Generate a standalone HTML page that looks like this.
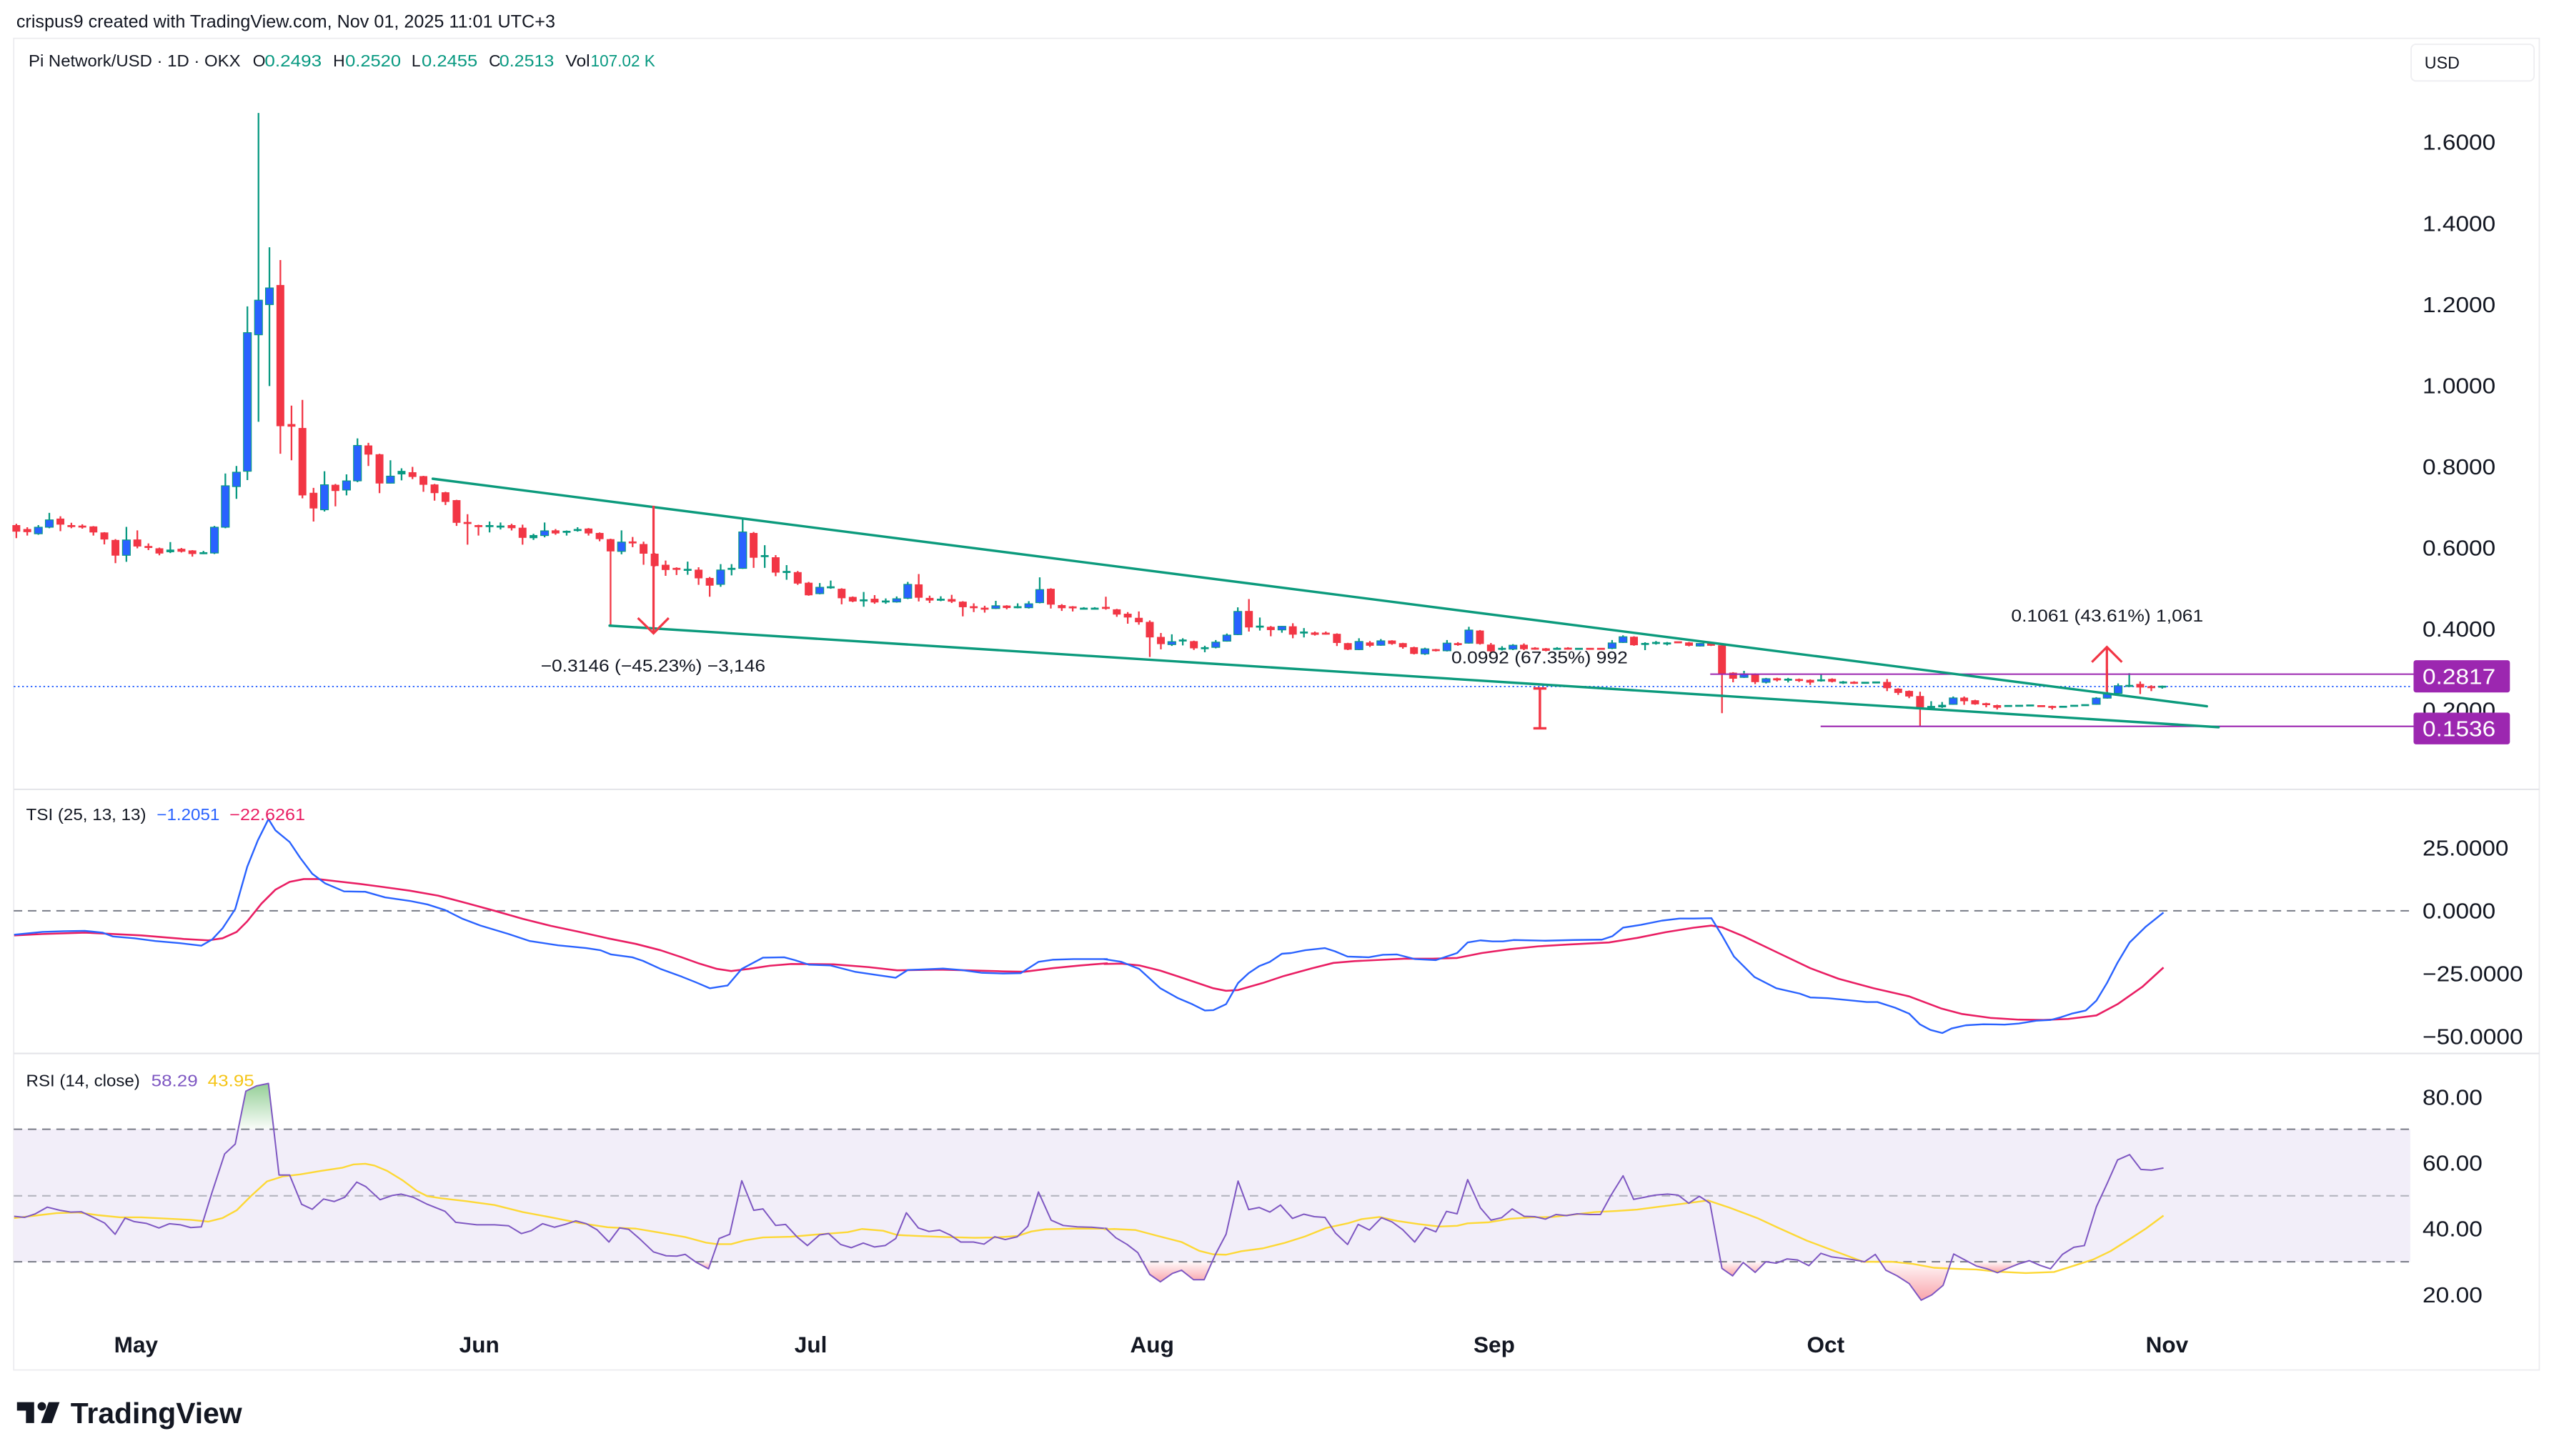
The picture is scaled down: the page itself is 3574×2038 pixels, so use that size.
<!DOCTYPE html>
<html><head><meta charset="utf-8"><style>html,body{margin:0;padding:0;background:#fff}svg{display:block}
.r{fill:#f23645}.b{fill:#2962ff;stroke:#089981;stroke-width:.5}.t{fill:#089981}
.ax{font-size:13.3px;fill:#131722}
</style></head><body>
<svg width="3574" height="2038" viewBox="0 0 1564 892" preserveAspectRatio="none" font-family="'Liberation Sans', Arial, sans-serif">
<defs>
<linearGradient id="gG" x1="0" y1="0" x2="0" y2="1"><stop offset="0" stop-color="#4caf50" stop-opacity=".6"/><stop offset="1" stop-color="#4caf50" stop-opacity=".03"/></linearGradient>
<linearGradient id="gR" x1="0" y1="0" x2="0" y2="1"><stop offset="0" stop-color="#f23645" stop-opacity=".03"/><stop offset="1" stop-color="#f23645" stop-opacity=".45"/></linearGradient>
<clipPath id="cT"><rect x="8.4" y="484" width="1468" height="161"/></clipPath>
<clipPath id="cR"><rect x="8.4" y="646" width="1468" height="165"/></clipPath>
</defs>
<rect x="0" y="0" width="1564" height="892" fill="#fff"/>
<!-- header -->
<text x="10" y="16.8" font-size="10.8" fill="#131722" textLength="330" lengthAdjust="spacingAndGlyphs">crispus9 created with TradingView.com, Nov 01, 2025 11:01 UTC+3</text>
<!-- frame -->
<rect x="8.4" y="23.5" width="1546.6" height="815.8" fill="none" stroke="#ececef" stroke-width="0.8"/>
<line x1="8.4" y1="483.6" x2="1555" y2="483.6" stroke="#e3e4e8" stroke-width="0.9"/>
<line x1="8.4" y1="645.4" x2="1555" y2="645.4" stroke="#e3e4e8" stroke-width="0.9"/>
<!-- legend -->
<g font-size="10" fill="#131722">
<text x="17.5" y="40.8" textLength="129.8" lengthAdjust="spacingAndGlyphs">Pi Network/USD · 1D · OKX</text>
<text x="154.8" y="40.8">O</text><text x="162.1" y="40.8" fill="#089981" textLength="34.9" lengthAdjust="spacingAndGlyphs">0.2493</text>
<text x="204" y="40.8">H</text><text x="211.4" y="40.8" fill="#089981" textLength="34.1" lengthAdjust="spacingAndGlyphs">0.2520</text>
<text x="252" y="40.8">L</text><text x="258.2" y="40.8" fill="#089981" textLength="34.2" lengthAdjust="spacingAndGlyphs">0.2455</text>
<text x="299.4" y="40.8">C</text><text x="305.8" y="40.8" fill="#089981" textLength="33.5" lengthAdjust="spacingAndGlyphs">0.2513</text>
<text x="346.3" y="40.8" textLength="15" lengthAdjust="spacingAndGlyphs">Vol</text><text x="361.7" y="40.8" fill="#089981" textLength="39.5" lengthAdjust="spacingAndGlyphs">107.02 K</text>
</g>
<!-- USD button -->
<rect x="1476.5" y="27.1" width="75.3" height="22.5" rx="3" fill="#fff" stroke="#eeeef1" stroke-width="0.8"/>
<text x="1484.7" y="42" font-size="10.5" fill="#131722" textLength="21.5" lengthAdjust="spacingAndGlyphs">USD</text>
<!-- price axis -->
<g class="ax">
<text x="1483.5" y="91.8" textLength="44.7" lengthAdjust="spacingAndGlyphs">1.6000</text>
<text x="1483.5" y="141.5" textLength="44.7" lengthAdjust="spacingAndGlyphs">1.4000</text>
<text x="1483.5" y="191.2" textLength="44.7" lengthAdjust="spacingAndGlyphs">1.2000</text>
<text x="1483.5" y="240.9" textLength="44.7" lengthAdjust="spacingAndGlyphs">1.0000</text>
<text x="1483.5" y="290.6" textLength="44.7" lengthAdjust="spacingAndGlyphs">0.8000</text>
<text x="1483.5" y="340.3" textLength="44.7" lengthAdjust="spacingAndGlyphs">0.6000</text>
<text x="1483.5" y="390" textLength="44.7" lengthAdjust="spacingAndGlyphs">0.4000</text>
<text x="1483.5" y="439.7" textLength="44.7" lengthAdjust="spacingAndGlyphs">0.2000</text>
</g>
<!-- current price dotted line -->
<line x1="8.4" y1="420.6" x2="1476" y2="420.6" stroke="#2962ff" stroke-width="0.8" stroke-dasharray="1 1.6"/>
<!-- wicks -->
<path fill="none" stroke="#f23645" stroke-width="1" d="M10 320.9V329.7M16.7 323V328.1M37 316.3V325.4M43.7 320.3V323.6M50.4 321.2V323.9M57.2 322.3V328.1M63.9 326V333.5M70.7 330.3V345M84.1 324.9V335.9M90.9 332.9V337M97.6 335.5V340.2M111.1 335.7V338.5M117.8 337V341M171.7 159.3V278M178.5 248.5V282M185.2 245V305.3M192 298.9V319.5M205.4 296.5V310.2M225.6 271.3V285.5M232.4 278V302.1M252.6 286V293.5M259.3 291.5V301.3M266.1 296.5V306.7M272.8 301.3V309.4M279.6 306.2V322.2M286.3 315V333.7M293 321.5V328.1M313.3 320.9V325M320 321.4V333.7M340.2 324.1V327.6M360.4 323.5V328.1M367.2 326.2V331.6M373.9 330V383.3M387.4 329V335.2M394.1 331.8V346M400.9 338.8V347.1M407.6 343.4V352.8M414.3 347.6V352.3M427.8 347.5V358.3M434.6 353.5V365.6M461.5 325.9V347.9M475 340.1V353M488.5 349.8V358.3M495.2 356.5V365M515.4 360.4V370.2M522.2 365.4V368.9M535.6 364.6V369.9M562.6 351.7V368.5M569.3 364.9V369.4M582.8 364.4V369.4M589.6 368.3V377.6M596.3 369.6V375M603 371.1V375.3M616.5 370.8V373.3M643.5 360.4V372.8M650.2 370.1V374.3M656.9 371.3V374.6M677.2 365.6V373.5M683.9 373V377.9M690.6 375V382.1M697.4 374.6V382.7M704.1 380.1V402.5M710.9 387.8V397.8M731.1 392.5V398.2M764.8 367V386.9M778.2 383.5V389.8M791.7 381.8V391M805.2 386.9V389.4M811.9 386.9V388.8M818.7 388V395.8M825.4 393.8V398.3M838.9 392.7V396.4M852.4 392.2V395M859.1 393.8V397.4M865.9 396.2V400.9M879.3 397.5V399.1M892.8 393.4V395.6M906.3 386V394.9M913 393.9V400M933.2 394.2V398.3M940 396.5V398M946.7 397V399M960.2 396.5V397.9M1000.6 389.8V395.6M1034.3 393.3V396M1047.8 393.6V395.8M1054.5 395V436.9M1061.3 411.8V418M1074.8 412.5V419.1M1088.2 415.2V417.5M1101.7 415.7V417.8M1108.5 416.2V419.6M1121.9 415.6V418.1M1135.4 417.4V419M1155.6 416V423.4M1162.4 421.6V425.7M1169.1 423V427.7M1175.8 423.8V444.9M1202.8 426.7V431.8M1209.5 428.7V431.8M1216.3 430.5V433.3M1223 431.7V434.7M1256.7 432.3V434.7M1310.6 417.5V425.2M1317.4 419.8V423.4"/>
<path fill="none" stroke="#089981" stroke-width="1" d="M23.5 321.7V327.6M30.2 314.2V323.6M77.4 322.8V344.2M104.3 332.1V338.8M124.6 337.5V339.5M131.3 322.2V339.4M138 290.1V323.6M144.8 285.5V305.6M151.5 187.7V294.1M158.3 69.2V258.4M165 151.5V236.5M198.7 288.7V313.4M212.2 290.6V303.5M218.9 268.6V295.4M239.1 282V296.2M245.9 286.9V294.3M299.8 319.5V326.2M306.5 320.1V324.4M326.7 327V330.8M333.5 320.1V329.2M347 325V328.1M353.7 323V325.7M380.6 324.9V339.6M421.1 344.1V352.1M441.3 345.6V359.5M448 345.6V352.5M454.8 318.1V348.5M468.3 334V347.9M481.7 346.2V355.2M502 357.2V364.1M508.7 355.7V360.7M528.9 362.7V371.7M542.4 366.6V369.9M549.1 365.4V369.2M555.9 356.5V367M576.1 365.3V368.3M609.8 368.1V373.1M623.2 369.6V372.7M630 368.3V372.8M636.7 353.7V369.6M663.7 372V373M670.4 372V373.3M717.6 388.6V395.7M724.3 391V395.4M737.8 395.6V399.6M744.5 392.1V397.2M751.3 388.1V393.1M758 372.1V389.1M771.5 378.3V386.3M785 383.5V387.6M798.5 384.8V390.5M832.2 391V398.3M845.6 391.5V395.6M872.6 396.8V401.2M886.1 392.1V399.1M899.5 384V394.3M919.8 395.9V398.5M926.5 394.6V398.3M953.5 396.5V397.8M987.2 392.1V397.7M993.9 389.2V393.9M1007.4 393.5V398.3M1014.1 392.7V394.9M1020.9 393.3V395.4M1041.1 393.9V396.1M1068 411V415.3M1081.5 415.3V418.7M1095 415.3V418.1M1115.2 413.3V417.6M1128.7 417.2V419M1182.6 429.6V434M1189.3 430.1V433.7M1196.1 426.7V431.8M1283.7 427.1V431.8M1290.4 409.9V428M1297.1 418.7V425.7M1303.9 412.4V420.9M1324.1 420V421.9"/>
<!-- bodies -->
<g>
<rect class="r" x="7.6" y="321.7" width="4.8" height="4"/>
<rect class="r" x="14.3" y="324.1" width="4.8" height="1.9"/>
<rect class="b" x="21.1" y="323" width="4.8" height="4"/>
<rect class="b" x="27.8" y="318.5" width="4.8" height="4.5"/>
<rect class="r" x="34.6" y="317.7" width="4.8" height="3.7"/>
<rect class="r" x="41.3" y="321.7" width="4.8" height="1.2"/>
<rect class="r" x="48" y="322" width="4.8" height="1.2"/>
<rect class="r" x="54.8" y="322.5" width="4.8" height="3.7"/>
<rect class="r" x="61.5" y="326.2" width="4.8" height="4.3"/>
<rect class="r" x="68.3" y="330.8" width="4.8" height="9.6"/>
<rect class="b" x="75" y="330.8" width="4.8" height="9.4"/>
<rect class="r" x="81.7" y="330.5" width="4.8" height="4.3"/>
<rect class="r" x="88.5" y="334.5" width="4.8" height="1.2"/>
<rect class="r" x="95.2" y="335.9" width="4.8" height="3.2"/>
<rect class="t" x="101.9" y="336.7" width="4.8" height="1.6"/>
<rect class="r" x="108.7" y="336.2" width="4.8" height="1.8"/>
<rect class="r" x="115.4" y="337.2" width="4.8" height="2.2"/>
<rect class="t" x="122.2" y="338.3" width="4.8" height="1.2"/>
<rect class="b" x="128.9" y="323" width="4.8" height="15.8"/>
<rect class="b" x="135.6" y="297.6" width="4.8" height="25.4"/>
<rect class="b" x="142.4" y="289.3" width="4.8" height="8.8"/>
<rect class="b" x="149.1" y="203.8" width="4.8" height="84.9"/>
<rect class="b" x="155.9" y="183.9" width="4.8" height="21.2"/>
<rect class="b" x="162.6" y="176.4" width="4.8" height="10.2"/>
<rect class="r" x="169.3" y="174.6" width="4.8" height="86.5"/>
<rect class="r" x="176.1" y="259.8" width="4.8" height="1.6"/>
<rect class="r" x="182.8" y="262.2" width="4.8" height="41.3"/>
<rect class="r" x="189.6" y="301.9" width="4.8" height="9.6"/>
<rect class="b" x="196.3" y="297" width="4.8" height="15.3"/>
<rect class="r" x="203" y="297" width="4.8" height="3.8"/>
<rect class="b" x="209.8" y="294.6" width="4.8" height="5.6"/>
<rect class="b" x="216.5" y="272.9" width="4.8" height="21.7"/>
<rect class="r" x="223.2" y="272.9" width="4.8" height="5.6"/>
<rect class="r" x="230" y="278.3" width="4.8" height="17.9"/>
<rect class="b" x="236.7" y="291.7" width="4.8" height="4.3"/>
<rect class="t" x="243.5" y="288.5" width="4.8" height="2.1"/>
<rect class="r" x="250.2" y="289.3" width="4.8" height="2.9"/>
<rect class="r" x="256.9" y="291.7" width="4.8" height="5.3"/>
<rect class="r" x="263.7" y="296.8" width="4.8" height="5.3"/>
<rect class="r" x="270.4" y="301.6" width="4.8" height="5.9"/>
<rect class="r" x="277.2" y="306.4" width="4.8" height="13.9"/>
<rect class="r" x="283.9" y="319.8" width="4.8" height="1.2"/>
<rect class="r" x="290.6" y="321.7" width="4.8" height="1.2"/>
<rect class="t" x="297.4" y="321.7" width="4.8" height="1.2"/>
<rect class="t" x="304.1" y="322" width="4.8" height="1.2"/>
<rect class="r" x="310.9" y="321.7" width="4.8" height="1.9"/>
<rect class="r" x="317.6" y="323.3" width="4.8" height="6.2"/>
<rect class="t" x="324.3" y="327.8" width="4.8" height="1.9"/>
<rect class="b" x="331.1" y="325.2" width="4.8" height="2.9"/>
<rect class="r" x="337.8" y="324.9" width="4.8" height="1.9"/>
<rect class="t" x="344.6" y="325.2" width="4.8" height="1.2"/>
<rect class="t" x="351.3" y="324.1" width="4.8" height="1.2"/>
<rect class="r" x="358" y="323.8" width="4.8" height="3"/>
<rect class="r" x="364.8" y="326.5" width="4.8" height="3.8"/>
<rect class="r" x="371.5" y="330.3" width="4.8" height="7.5"/>
<rect class="b" x="378.2" y="332.1" width="4.8" height="5.7"/>
<rect class="r" x="385" y="331.7" width="4.8" height="1.2"/>
<rect class="r" x="391.7" y="333.3" width="4.8" height="5.9"/>
<rect class="r" x="398.5" y="339.2" width="4.8" height="7.6"/>
<rect class="r" x="405.2" y="346" width="4.8" height="3.2"/>
<rect class="r" x="411.9" y="347.9" width="4.8" height="1.2"/>
<rect class="t" x="418.7" y="348.5" width="4.8" height="1.2"/>
<rect class="r" x="425.4" y="349" width="4.8" height="5.3"/>
<rect class="r" x="432.2" y="354.1" width="4.8" height="4.7"/>
<rect class="b" x="438.9" y="349.2" width="4.8" height="8.8"/>
<rect class="t" x="445.6" y="347.9" width="4.8" height="1.2"/>
<rect class="b" x="452.4" y="325.9" width="4.8" height="22.3"/>
<rect class="r" x="459.1" y="326.5" width="4.8" height="15.2"/>
<rect class="t" x="465.9" y="340.1" width="4.8" height="1.2"/>
<rect class="r" x="472.6" y="341.4" width="4.8" height="9.4"/>
<rect class="t" x="479.3" y="349.8" width="4.8" height="1.2"/>
<rect class="r" x="486.1" y="350.5" width="4.8" height="7"/>
<rect class="r" x="492.8" y="357" width="4.8" height="7.7"/>
<rect class="b" x="499.6" y="359.8" width="4.8" height="3.9"/>
<rect class="t" x="506.3" y="359.2" width="4.8" height="1.2"/>
<rect class="r" x="513" y="360.7" width="4.8" height="5.8"/>
<rect class="r" x="519.8" y="365.7" width="4.8" height="2.8"/>
<rect class="t" x="526.5" y="367.2" width="4.8" height="1.2"/>
<rect class="r" x="533.2" y="366.8" width="4.8" height="2.3"/>
<rect class="t" x="540" y="367.9" width="4.8" height="1.2"/>
<rect class="b" x="546.7" y="366.8" width="4.8" height="2"/>
<rect class="b" x="553.5" y="358" width="4.8" height="8.5"/>
<rect class="r" x="560.2" y="358" width="4.8" height="8.2"/>
<rect class="r" x="566.9" y="366.3" width="4.8" height="1.6"/>
<rect class="t" x="573.7" y="366.8" width="4.8" height="1.2"/>
<rect class="r" x="580.4" y="367" width="4.8" height="1.6"/>
<rect class="r" x="587.2" y="368.6" width="4.8" height="3.4"/>
<rect class="r" x="593.9" y="371.4" width="4.8" height="1.2"/>
<rect class="r" x="600.6" y="372.3" width="4.8" height="1.2"/>
<rect class="b" x="607.4" y="371.1" width="4.8" height="1.7"/>
<rect class="r" x="614.1" y="371" width="4.8" height="1.5"/>
<rect class="t" x="620.8" y="371.4" width="4.8" height="1.2"/>
<rect class="b" x="627.6" y="369.9" width="4.8" height="2.4"/>
<rect class="b" x="634.3" y="361.2" width="4.8" height="8"/>
<rect class="r" x="641.1" y="360.7" width="4.8" height="9.7"/>
<rect class="r" x="647.8" y="370.7" width="4.8" height="1.9"/>
<rect class="r" x="654.5" y="371.5" width="4.8" height="1.2"/>
<rect class="t" x="661.3" y="372.3" width="4.8" height="1.2"/>
<rect class="t" x="668" y="372.3" width="4.8" height="1.2"/>
<rect class="r" x="674.8" y="371.8" width="4.8" height="1.2"/>
<rect class="r" x="681.5" y="373.3" width="4.8" height="3.2"/>
<rect class="r" x="688.2" y="376" width="4.8" height="2.3"/>
<rect class="r" x="695" y="378.5" width="4.8" height="2.7"/>
<rect class="r" x="701.7" y="381" width="4.8" height="9.5"/>
<rect class="r" x="708.5" y="390.2" width="4.8" height="4.4"/>
<rect class="b" x="715.2" y="393.1" width="4.8" height="1.8"/>
<rect class="t" x="721.9" y="391.8" width="4.8" height="1.2"/>
<rect class="r" x="728.7" y="392.8" width="4.8" height="4.4"/>
<rect class="t" x="735.4" y="396.5" width="4.8" height="1.2"/>
<rect class="b" x="742.1" y="393.4" width="4.8" height="3.2"/>
<rect class="b" x="748.9" y="389.1" width="4.8" height="3.7"/>
<rect class="b" x="755.6" y="374.6" width="4.8" height="14.2"/>
<rect class="r" x="762.4" y="374.3" width="4.8" height="10.1"/>
<rect class="t" x="769.1" y="383.3" width="4.8" height="1.2"/>
<rect class="r" x="775.8" y="384" width="4.8" height="2"/>
<rect class="b" x="782.6" y="383.7" width="4.8" height="2.2"/>
<rect class="r" x="789.3" y="383.7" width="4.8" height="5.1"/>
<rect class="t" x="796.1" y="386.9" width="4.8" height="1.2"/>
<rect class="r" x="802.8" y="387.5" width="4.8" height="1.4"/>
<rect class="r" x="809.5" y="387.6" width="4.8" height="1.2"/>
<rect class="r" x="816.3" y="388.3" width="4.8" height="5.6"/>
<rect class="r" x="823" y="394" width="4.8" height="4"/>
<rect class="b" x="829.8" y="393" width="4.8" height="5"/>
<rect class="r" x="836.5" y="393.6" width="4.8" height="2"/>
<rect class="b" x="843.2" y="392.6" width="4.8" height="2.7"/>
<rect class="r" x="850" y="392.4" width="4.8" height="2.1"/>
<rect class="r" x="856.7" y="394" width="4.8" height="2.5"/>
<rect class="r" x="863.5" y="396.5" width="4.8" height="4.1"/>
<rect class="b" x="870.2" y="397.5" width="4.8" height="3.1"/>
<rect class="r" x="876.9" y="397.7" width="4.8" height="1.2"/>
<rect class="b" x="883.7" y="394" width="4.8" height="4.7"/>
<rect class="r" x="890.4" y="394" width="4.8" height="1.2"/>
<rect class="b" x="897.1" y="386" width="4.8" height="8"/>
<rect class="r" x="903.9" y="386.3" width="4.8" height="8.2"/>
<rect class="r" x="910.6" y="394.9" width="4.8" height="4.1"/>
<rect class="t" x="917.4" y="396.9" width="4.8" height="1.2"/>
<rect class="b" x="924.1" y="395.3" width="4.8" height="2.4"/>
<rect class="r" x="930.8" y="395" width="4.8" height="2.7"/>
<rect class="r" x="937.6" y="396.8" width="4.8" height="1.2"/>
<rect class="r" x="944.3" y="397.2" width="4.8" height="1.5"/>
<rect class="t" x="951.1" y="396.9" width="4.8" height="1.2"/>
<rect class="r" x="957.8" y="396.8" width="4.8" height="1.2"/>
<rect class="t" x="964.5" y="396.9" width="4.8" height="1.2"/>
<rect class="r" x="971.3" y="396.9" width="4.8" height="1.2"/>
<rect class="r" x="978" y="396.9" width="4.8" height="1.2"/>
<rect class="b" x="984.8" y="393.9" width="4.8" height="3.3"/>
<rect class="b" x="991.5" y="390.1" width="4.8" height="3.5"/>
<rect class="r" x="998.2" y="390.1" width="4.8" height="5.2"/>
<rect class="t" x="1005" y="393.9" width="4.8" height="1.2"/>
<rect class="t" x="1011.7" y="393.3" width="4.8" height="1.2"/>
<rect class="t" x="1018.5" y="393.6" width="4.8" height="1.2"/>
<rect class="r" x="1025.2" y="392.9" width="4.8" height="1.2"/>
<rect class="r" x="1031.9" y="393.6" width="4.8" height="2"/>
<rect class="b" x="1038.7" y="394.2" width="4.8" height="1.6"/>
<rect class="r" x="1045.4" y="393.9" width="4.8" height="1.7"/>
<rect class="r" x="1052.1" y="395.3" width="4.8" height="17.5"/>
<rect class="r" x="1058.9" y="412.1" width="4.8" height="3.7"/>
<rect class="b" x="1065.6" y="412.8" width="4.8" height="2.2"/>
<rect class="r" x="1072.4" y="412.8" width="4.8" height="5.1"/>
<rect class="b" x="1079.1" y="415.8" width="4.8" height="2.2"/>
<rect class="r" x="1085.8" y="415.5" width="4.8" height="1.3"/>
<rect class="t" x="1092.6" y="415.8" width="4.8" height="1.2"/>
<rect class="r" x="1099.3" y="416" width="4.8" height="1.2"/>
<rect class="r" x="1106.1" y="416.5" width="4.8" height="1.7"/>
<rect class="t" x="1112.8" y="416.2" width="4.8" height="1.2"/>
<rect class="r" x="1119.5" y="415.9" width="4.8" height="1.8"/>
<rect class="t" x="1126.3" y="417.5" width="4.8" height="1.2"/>
<rect class="r" x="1133" y="417.7" width="4.8" height="1.2"/>
<rect class="t" x="1139.8" y="417.7" width="4.8" height="1.2"/>
<rect class="t" x="1146.5" y="417.5" width="4.8" height="1.2"/>
<rect class="r" x="1153.2" y="417.8" width="4.8" height="3.8"/>
<rect class="r" x="1160" y="421.9" width="4.8" height="2.6"/>
<rect class="r" x="1166.7" y="423.3" width="4.8" height="3.4"/>
<rect class="r" x="1173.4" y="426.4" width="4.8" height="6.9"/>
<rect class="t" x="1180.2" y="432.5" width="4.8" height="1.2"/>
<rect class="t" x="1186.9" y="431.8" width="4.8" height="1.5"/>
<rect class="b" x="1193.7" y="427.6" width="4.8" height="3.9"/>
<rect class="r" x="1200.4" y="427.4" width="4.8" height="2.2"/>
<rect class="r" x="1207.1" y="429" width="4.8" height="2.5"/>
<rect class="r" x="1213.9" y="430.8" width="4.8" height="1.2"/>
<rect class="r" x="1220.6" y="432" width="4.8" height="1.6"/>
<rect class="t" x="1227.4" y="431.9" width="4.8" height="1.2"/>
<rect class="t" x="1234.1" y="431.8" width="4.8" height="1.2"/>
<rect class="t" x="1240.8" y="431.6" width="4.8" height="1.2"/>
<rect class="r" x="1247.6" y="432" width="4.8" height="1.2"/>
<rect class="r" x="1254.3" y="432.5" width="4.8" height="1.2"/>
<rect class="t" x="1261" y="432.4" width="4.8" height="1.2"/>
<rect class="t" x="1267.8" y="431.8" width="4.8" height="1.2"/>
<rect class="t" x="1274.5" y="431.4" width="4.8" height="1.2"/>
<rect class="b" x="1281.3" y="427.7" width="4.8" height="3.8"/>
<rect class="b" x="1288" y="424.8" width="4.8" height="2.9"/>
<rect class="b" x="1294.7" y="420.1" width="4.8" height="4.7"/>
<rect class="t" x="1301.5" y="419.6" width="4.8" height="1.2"/>
<rect class="r" x="1308.2" y="419" width="4.8" height="2.2"/>
<rect class="r" x="1315" y="420.4" width="4.8" height="1.2"/>
<rect class="t" x="1321.7" y="420.1" width="4.8" height="1.2"/>
</g>
<!-- purple levels -->
<line x1="1047.3" y1="413" x2="1478" y2="413" stroke="#9c27b0" stroke-width="0.9"/>
<line x1="1114.9" y1="445" x2="1478" y2="445" stroke="#9c27b0" stroke-width="0.9"/>
<!-- trendlines -->
<line x1="265" y1="293.3" x2="1351.4" y2="432.7" stroke="#0b9a7c" stroke-width="1.5" stroke-linecap="round"/>
<line x1="373.3" y1="383.3" x2="1358.6" y2="445.5" stroke="#0b9a7c" stroke-width="1.5" stroke-linecap="round"/>
<!-- red drawings -->
<g stroke="#f23645" fill="none" stroke-width="1.4">
<path d="M400.2 309.8V387.5M390.6 378.6L400.2 388L409.5 378.6"/>
<path d="M943 421.6V446.4M939 421.8H947M939 446.2H947" stroke-width="1.5"/>
<path d="M1290.2 397V423.8M1281 405.6L1290.2 396.4L1299.4 405.6"/>
</g>
<!-- measure texts -->
<g font-size="10.5" fill="#131722">
<text x="331.1" y="411.5" textLength="137.6" lengthAdjust="spacingAndGlyphs">−0.3146 (−45.23%) −3,146</text>
<text x="888.8" y="406.3" textLength="108" lengthAdjust="spacingAndGlyphs">0.0992 (67.35%) 992</text>
<text x="1231.6" y="380.7" textLength="117.6" lengthAdjust="spacingAndGlyphs">0.1061 (43.61%) 1,061</text>
</g>
<!-- purple label boxes -->
<rect x="1478" y="404.5" width="59" height="19.7" rx="1.5" fill="#9c27b0"/>
<rect x="1478" y="436.6" width="59" height="19.4" rx="1.5" fill="#9c27b0"/>
<text x="1483.5" y="419" font-size="13.3" fill="#fff" textLength="44.7" lengthAdjust="spacingAndGlyphs">0.2817</text>
<text x="1483.5" y="451" font-size="13.3" fill="#fff" textLength="44.7" lengthAdjust="spacingAndGlyphs">0.1536</text>

<!-- TSI pane -->
<line x1="8.4" y1="558" x2="1476" y2="558" stroke="#787b86" stroke-width="0.9" stroke-dasharray="5.2 3.5"/>
<g clip-path="url(#cT)" fill="none" stroke-linejoin="round">
<g transform="matrix(0.4326 0 0 0.2159 0 482.4)">
<polyline vector-effect="non-scaling-stroke" stroke="#e91e63" stroke-width="2.6" points="20,420 60,416 120,412 200,420 260,430 295,434 315,428 335,410 350,380 370,330 390,290 410,268 430,260 450,260 475,266 510,274 540,282 580,293 620,307 660,328 700,350 740,373 780,393 820,410 860,428 900,444 935,462 965,482 990,500 1015,515 1035,521 1060,515 1090,506 1120,501 1180,502 1230,510 1270,519 1330,517 1370,519 1420,522 1450,523 1490,513 1530,505 1568,499"/>
<polyline vector-effect="non-scaling-stroke" stroke="#2962ff" stroke-width="2.4" points="20,418 60,410 90,408 120,407 145,412 160,423 190,428 220,436 255,442 285,449 300,432 315,400 333,345 350,225 365,150 380,90 390,122 410,155 425,200 442,245 460,272 487,295 517,296 545,312 580,322 605,332 630,348 655,373 680,392 720,416 750,436 790,448 830,456 850,462 865,474 895,482 910,492 935,515 965,537 985,553 1005,570 1030,562 1050,515 1080,483 1110,482 1125,490 1145,503 1175,505 1210,523 1240,532 1268,540 1285,518 1300,517 1335,514 1360,518 1390,526 1420,528 1445,527 1470,495 1490,489 1520,487 1568,487"/>
</g>
<g transform="matrix(0.4326 0 0 0.2159 656.5 482.4)">
<polyline vector-effect="non-scaling-stroke" stroke="#e91e63" stroke-width="2.6" points="45,501 70,500 95,505 125,520 160,543 200,570 218,577 235,575 270,555 300,535 340,513 370,498 400,493 440,489 470,486 510,486 545,484 580,470 620,459 660,451 700,446 760,440 800,427 840,411 880,398 905,392 920,397 950,422 1000,470 1045,513 1085,543 1135,570 1185,593 1230,627 1260,643 1300,654 1340,659 1375,660 1410,657 1450,647 1480,615 1515,566 1545,511"/>
<polyline vector-effect="non-scaling-stroke" stroke="#2962ff" stroke-width="2.4" points="45,487 70,495 95,515 125,570 150,598 170,615 188,633 200,632 218,615 235,555 250,527 265,507 280,495 297,472 310,470 330,462 358,456 372,465 390,480 420,482 440,475 460,474 485,487 515,490 545,470 560,440 578,434 595,437 610,437 625,433 670,435 710,433 750,432 765,422 780,398 805,390 835,378 860,372 880,372 905,371 920,420 937,480 966,538 997,570 1030,585 1045,596 1070,598 1100,604 1125,609 1140,609 1165,625 1185,642 1200,672 1215,688 1232,697 1245,684 1265,675 1290,672 1320,673 1340,670 1365,662 1385,660 1400,652 1415,642 1435,633 1450,605 1465,555 1480,497 1497,440 1520,395 1545,355"/>
</g>
</g>
<g font-size="10" fill="#131722">
<text x="16" y="502.5" textLength="73.5" lengthAdjust="spacingAndGlyphs">TSI (25, 13, 13)</text>
<text x="96" y="502.5" fill="#2962ff" textLength="38.5" lengthAdjust="spacingAndGlyphs">−1.2051</text>
<text x="140.6" y="502.5" fill="#e91e63" textLength="46.3" lengthAdjust="spacingAndGlyphs">−22.6261</text>
</g>
<g class="ax">
<text x="1483.5" y="524.2" textLength="52.7" lengthAdjust="spacingAndGlyphs">25.0000</text>
<text x="1483.5" y="562.7" textLength="44.7" lengthAdjust="spacingAndGlyphs">0.0000</text>
<text x="1483.5" y="601.2" textLength="61.5" lengthAdjust="spacingAndGlyphs">−25.0000</text>
<text x="1483.5" y="639.7" textLength="61.5" lengthAdjust="spacingAndGlyphs">−50.0000</text>
</g>

<!-- RSI pane -->
<rect x="8.4" y="691.8" width="1467.6" height="81.2" fill="#f2eef9"/>
<line x1="8.4" y1="691.8" x2="1476" y2="691.8" stroke="#787b86" stroke-width="0.9" stroke-dasharray="5.2 3.5"/>
<line x1="8.4" y1="732.6" x2="1476" y2="732.6" stroke="#787b86" stroke-opacity="0.5" stroke-width="0.9" stroke-dasharray="5.2 3.5"/>
<line x1="8.4" y1="773" x2="1476" y2="773" stroke="#787b86" stroke-width="0.9" stroke-dasharray="5.2 3.5"/>
<g clip-path="url(#cR)" stroke-linejoin="round">
<g transform="matrix(0.4326 0 0 0.2159 0 482.4)">
<polygon fill="url(#gG)" points="337.2,970 348,862 363,847 380,840 387.5,970"/>
<polygon fill="url(#gR)" points="984.3,1346 985,1347 1003,1366 1006.5,1346"/>
<polyline fill="none" vector-effect="non-scaling-stroke" stroke="#fdd835" stroke-width="2.4" points="20,1222 50,1215 80,1208 110,1206 140,1214 170,1220 200,1220 240,1224 270,1227 295,1232 315,1222 335,1200 355,1160 378,1118 400,1104 425,1098 455,1088 485,1079 500,1070 517,1068 530,1073 548,1088 570,1115 590,1145 605,1160 625,1166 660,1174 700,1185 740,1205 780,1220 820,1236 860,1248 900,1252 930,1262 970,1276 1000,1292 1015,1296 1035,1296 1055,1285 1080,1277 1120,1275 1160,1268 1200,1262 1220,1253 1250,1258 1270,1270 1300,1273 1340,1276 1380,1278 1410,1277 1440,1273 1460,1260 1480,1254 1520,1252 1568,1252"/>
<polyline fill="none" vector-effect="non-scaling-stroke" stroke="#7e57c2" stroke-width="2" points="20,1217 35,1220 50,1210 67,1191 85,1200 100,1205 115,1204 130,1218 148,1236 163,1268 177,1222 190,1232 207,1237 225,1250 240,1238 255,1241 270,1249 285,1247 300,1150 318,1040 333,1012 348,862 363,847 380,840 395,1100 410,1100 427,1183 442,1197 458,1168 473,1175 488,1163 505,1120 518,1133 538,1170 555,1158 568,1154 585,1163 605,1183 630,1203 645,1234 675,1241 700,1241 720,1244 738,1266 752,1258 768,1238 785,1248 800,1240 815,1230 830,1238 845,1255 862,1290 877,1250 890,1254 905,1280 925,1318 943,1329 958,1330 970,1325 985,1347 1003,1366 1018,1280 1033,1268 1050,1116 1067,1200 1080,1196 1098,1243 1112,1240 1128,1275 1143,1300 1160,1270 1173,1266 1190,1297 1205,1306 1222,1293 1238,1304 1253,1300 1268,1280 1283,1207 1300,1250 1315,1260 1330,1256 1345,1270 1360,1290 1378,1290 1393,1296 1408,1275 1423,1283 1440,1275 1455,1245 1470,1148 1488,1228 1505,1243 1525,1247 1545,1248 1568,1252"/>
</g>
<g transform="matrix(0.4326 0 0 0.2159 656.5 482.4)">
<polygon fill="url(#gR)" points="100.1,1346 110,1382 125,1403 142,1379 155,1370 172,1397 187,1397 198.3,1346"/>
<polygon fill="url(#gR)" points="918.2,1346 920,1365 935,1386 950,1348 967,1376 982,1346"/>
<polygon fill="url(#gR)" points="1144,1346 1152,1370 1168,1386 1185,1408 1202,1455 1217,1440 1233,1413 1244.3,1346"/>
<polygon fill="url(#gR)" points="1266.3,1346 1280,1358 1295,1366 1310,1377 1325,1364 1340,1352 1350,1346"/>
<polyline fill="none" vector-effect="non-scaling-stroke" stroke="#fdd835" stroke-width="2.4" points="45,1254 60,1253 90,1256 120,1272 155,1290 180,1315 200,1325 218,1326 240,1316 270,1308 300,1293 330,1274 360,1250 390,1237 410,1225 435,1219 460,1230 490,1239 520,1246 545,1244 560,1237 590,1234 620,1224 650,1220 680,1219 710,1212 740,1205 770,1202 800,1198 830,1190 870,1180 900,1172 930,1192 970,1222 1000,1250 1040,1286 1080,1316 1120,1346 1160,1346 1190,1352 1220,1363 1250,1366 1280,1368 1310,1374 1350,1378 1390,1375 1420,1356 1445,1340 1470,1316 1500,1278 1520,1252 1545,1215"/>
<polyline fill="none" vector-effect="non-scaling-stroke" stroke="#7e57c2" stroke-width="2" points="47,1250 62,1278 78,1297 93,1320 110,1382 125,1403 142,1379 155,1370 172,1397 187,1397 203,1325 218,1268 235,1117 250,1198 265,1192 280,1205 295,1185 312,1223 328,1211 343,1218 358,1220 373,1265 390,1297 405,1240 421,1256 438,1221 453,1233 468,1255 485,1290 500,1249 515,1261 530,1203 545,1210 560,1113 578,1193 593,1228 608,1221 623,1196 640,1217 655,1218 670,1225 685,1212 700,1215 715,1210 733,1212 748,1212 763,1157 780,1102 795,1169 810,1163 825,1157 843,1154 858,1157 873,1180 888,1160 903,1180 920,1365 935,1386 950,1348 967,1376 982,1346 997,1350 1012,1338 1027,1341 1043,1357 1060,1322 1075,1332 1090,1336 1105,1340 1122,1346 1137,1325 1152,1370 1168,1386 1185,1408 1202,1455 1217,1440 1233,1413 1248,1324 1263,1340 1280,1358 1295,1366 1310,1377 1325,1364 1340,1352 1355,1343 1370,1356 1385,1366 1402,1325 1418,1305 1433,1300 1450,1190 1465,1125 1480,1057 1497,1042 1513,1084 1528,1086 1545,1080"/>
</g>
</g>
<g font-size="10" fill="#131722">
<text x="16" y="665.5" textLength="69.7" lengthAdjust="spacingAndGlyphs">RSI (14, close)</text>
<text x="92.6" y="665.5" fill="#7e57c2" textLength="28.5" lengthAdjust="spacingAndGlyphs">58.29</text>
<text x="127.2" y="665.5" fill="#f5c518" textLength="28.5" lengthAdjust="spacingAndGlyphs">43.95</text>
</g>
<g class="ax">
<text x="1483.5" y="676.8" textLength="36.7" lengthAdjust="spacingAndGlyphs">80.00</text>
<text x="1483.5" y="717.2" textLength="36.7" lengthAdjust="spacingAndGlyphs">60.00</text>
<text x="1483.5" y="757.5" textLength="36.7" lengthAdjust="spacingAndGlyphs">40.00</text>
<text x="1483.5" y="797.9" textLength="36.7" lengthAdjust="spacingAndGlyphs">20.00</text>
</g>
<!-- time axis -->
<g font-size="13.8" font-weight="bold" fill="#131722" text-anchor="middle">
<text x="83.3" y="828.6">May</text>
<text x="293.5" y="828.6">Jun</text>
<text x="496.5" y="828.6">Jul</text>
<text x="705.5" y="828.6">Aug</text>
<text x="915" y="828.6">Sep</text>
<text x="1118" y="828.6">Oct</text>
<text x="1327" y="828.6">Nov</text>
</g>
<!-- TradingView logo -->
<g fill="#131722">
<path d="M10.4 859H20.9V871.8H15.9V864.2H10.4Z"/>
<circle cx="25.6" cy="861.6" r="2.6"/>
<polygon points="29.8,859 36.5,859 31.8,871.8 25.1,871.8"/>
<text x="43.2" y="871.8" font-size="18" font-weight="bold" textLength="105" lengthAdjust="spacingAndGlyphs">TradingView</text>
</g>
</svg>
</body></html>
